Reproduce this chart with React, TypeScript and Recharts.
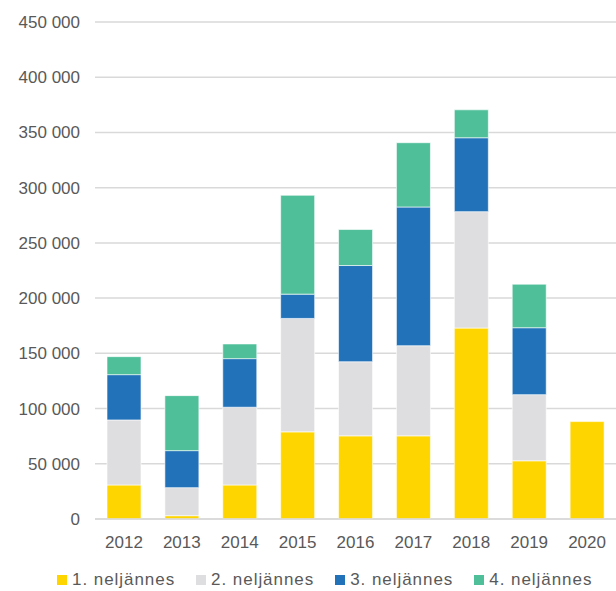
import React from 'react';
import { BarChart, Bar, XAxis, YAxis, CartesianGrid, Legend } from 'recharts';

const years = ['2012', '2013', '2014', '2015', '2016', '2017', '2018', '2019', '2020'];
const q1 = [30800, 3000, 30800, 78900, 75300, 75300, 172900, 52700, 88200];
const q2 = [58900, 25400, 70400, 102700, 67100, 81600, 105400, 59900, null];
const q3 = [41000, 33500, 44000, 22000, 87100, 125600, 66900, 60600, null];
const q4 = [16300, 49800, 13300, 89500, 32600, 58200, 25300, 39400, null];
const yTicks = [0, 50000, 100000, 150000, 200000, 250000, 300000, 350000, 400000, 450000];

const series = [
  { key: 'q1', name: '1. neljännes', color: '#FFD500' },
  { key: 'q2', name: '2. neljännes', color: '#DEDEE0' },
  { key: 'q3', name: '3. neljännes', color: '#2272B9' },
  { key: 'q4', name: '4. neljännes', color: '#4FBF9A' },
];

const data = years.map((year, i) => ({ year, q1: q1[i], q2: q2[i], q3: q3[i], q4: q4[i] }));

const font = '"Liberation Sans", Arial, sans-serif';
const textColor = '#595959';

const formatTick = (value: number) =>
  value === 0 ? '0' : String(value).replace(/\B(?=(\d{3})+(?!\d))/g, '\u00a0');

const QuarterLegend = () => (
  <div
    style={{
      display: 'flex',
      alignItems: 'center',
      paddingLeft: 57,
      paddingTop: 21,
      fontFamily: font,
      fontSize: 17,
      letterSpacing: 0.95,
      color: textColor,
      lineHeight: '20px',
      whiteSpace: 'nowrap',
    }}
  >
    {series.map((s, i) => (
      <div
        key={s.key}
        style={{ display: 'flex', alignItems: 'center', flexShrink: 0, marginRight: i < series.length - 1 ? 21 : 0 }}
      >
        <span style={{ width: 10, height: 10, background: s.color, marginRight: 5, display: 'inline-block', flexShrink: 0 }} />
        <span>{s.name}</span>
      </div>
    ))}
  </div>
);

export default function App() {
  return (
    <div style={{ position: 'absolute', left: 0, top: 0, width: 616, height: 591, background: '#fff' }}>
      <BarChart
        width={616}
        height={591}
        data={data}
        margin={{ top: 22, right: 0, left: 0, bottom: 0 }}
        barSize={34}
      >
        <CartesianGrid vertical={false} stroke="#d9d9d9" strokeWidth={1.5} />
        <XAxis
          dataKey="year"
          height={30}
          tickLine={false}
          axisLine={{ stroke: '#d9d9d9', strokeWidth: 1.5 }}
          tickMargin={11}
          tick={{ fill: textColor, fontSize: 17, fontFamily: font }}
        />
        <YAxis
          width={95}
          domain={[0, 450000]}
          ticks={yTicks}
          interval={0}
          tickLine={false}
          axisLine={false}
          tickMargin={9}
          tickFormatter={formatTick}
          tick={{ fill: textColor, fontSize: 17, fontFamily: font }}
        />
        <Legend verticalAlign="bottom" height={42} content={<QuarterLegend />} wrapperStyle={{ left: 0, bottom: 0, width: 616 }} />
        {series.map((s) => (
          <Bar
            key={s.key}
            dataKey={s.key}
            name={s.name}
            stackId="a"
            fill={s.color}
            stroke="#ffffff"
            strokeWidth={0.6}
            isAnimationActive={false}
          />
        ))}
      </BarChart>
    </div>
  );
}
